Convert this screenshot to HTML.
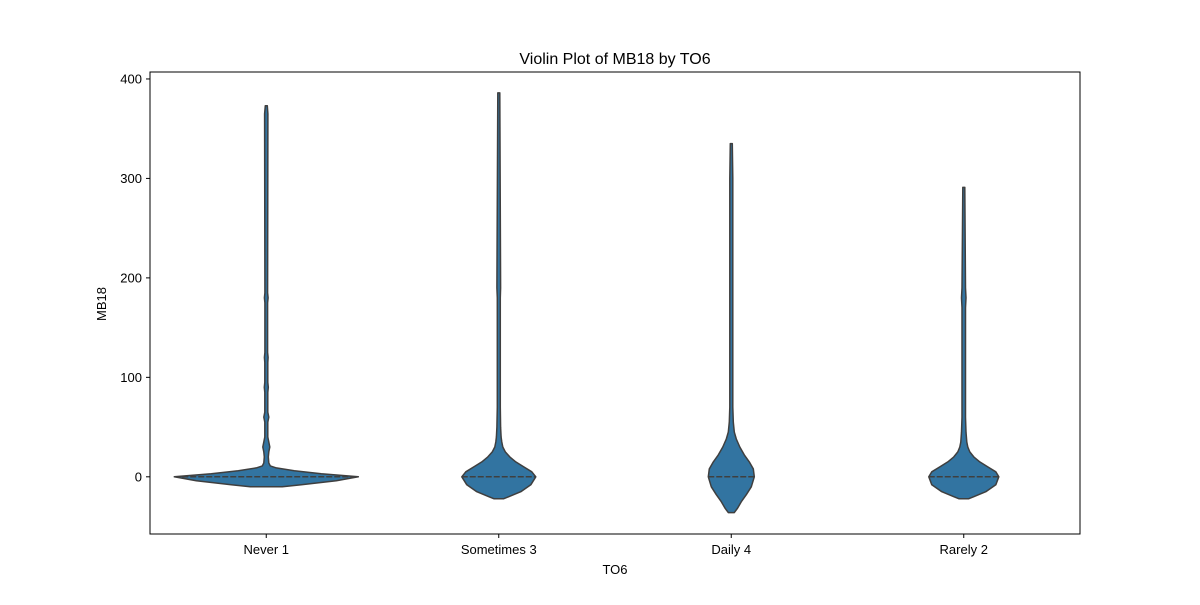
<!DOCTYPE html>
<html><head><meta charset="utf-8"><style>
body{margin:0;background:#fff;}
svg text{font-family:"Liberation Sans","DejaVu Sans",sans-serif;fill:#000;}
</style></head><body>
<svg id="chart" width="1200" height="600" viewBox="0 0 1200 600">
<rect x="0" y="0" width="1200" height="600" fill="#fff"/>
<text x="615" y="64" font-size="16" text-anchor="middle">Violin Plot of MB18 by TO6</text>
<text x="615" y="574" font-size="13" text-anchor="middle">TO6</text>
<text x="106" y="304" font-size="13" text-anchor="middle" transform="rotate(-90 106 304)">MB18</text>
<g id="plot"></g>
<rect x="150" y="72" width="930" height="462" fill="none" stroke="#000" stroke-width="1"/>
</svg>
<script>
const categories = ["Never 1", "Sometimes 3", "Daily 4", "Rarely 2"];
const yTicks = [0, 100, 200, 300, 400];
// density profiles: value points and half-widths (in px of violin width)
const neverVals = [-10, -8, -4, 0, 3, 6, 9, 11, 14, 20, 25, 30, 35, 40, 55, 60, 65, 85, 90, 95, 115, 120, 125, 175, 180, 185, 365, 373];
const neverWidths = [16, 35, 70, 92, 55, 28, 10, 4, 2.5, 2, 2.5, 3.5, 2.5, 1.5, 1.5, 2.5, 1.5, 1.5, 2, 1.5, 1.5, 1.8, 1.4, 1.4, 1.8, 1.4, 1.6, 1];
const sometimesVals = [-22, -20, -15, -8, 0, 5, 10, 15, 20, 25, 30, 35, 40, 50, 70, 180, 190, 386];
const sometimesWidths = [5, 10, 22, 32, 37, 33, 25, 17, 11, 6.5, 4, 3, 2.3, 1.8, 1.5, 1.5, 1.8, 1];
const dailyVals = [-36, -32, -25, -18, -10, 0, 8, 15, 22, 30, 38, 45, 55, 70, 300, 335];
const dailyWidths = [3, 6, 10, 15, 20, 23, 22, 18, 13, 8.5, 5, 3, 2, 1.5, 1.5, 1];
const rarelyVals = [-22, -20, -15, -8, 0, 5, 10, 15, 20, 25, 30, 35, 45, 60, 170, 180, 190, 291];
const rarelyWidths = [5, 10, 22, 32, 35, 32, 24, 16, 10, 6, 4, 3, 2.2, 1.7, 1.7, 2.3, 1.7, 1];
const medians = [0, 0, 0, 0];

const profiles = [[neverVals, neverWidths], [sometimesVals, sometimesWidths], [dailyVals, dailyWidths], [rarelyVals, rarelyWidths]];
const X0 = 150, X1 = 1080, Y0 = 534, Y1 = 72;
const yMin = -57.5, yMax = 407;
function yScale(v){ return Y0 - (v - yMin) / (yMax - yMin) * (Y0 - Y1); }
function xScale(i){ return X0 + (i + 0.5) * (X1 - X0) / categories.length; }
const NS = "http://www.w3.org/2000/svg";
const svg = document.getElementById("chart");
const plot = document.getElementById("plot");
function mk(tag, attrs, parent){ const e = document.createElementNS(NS, tag); for (const k in attrs) e.setAttribute(k, attrs[k]); (parent||plot).appendChild(e); return e; }

yTicks.forEach(t => {
  const y = yScale(t);
  const tk = mk("line", {x1: X0-4, x2: X0, y1: y, y2: y, stroke: "#000"});
  
  
  const tl = mk("text", {x: X0-8, y: y+4.5, "font-size": 13, "text-anchor": "end"});
  tl.textContent = t;
  
  
});

categories.forEach((c, i) => {
  const cx = xScale(i);
  const tk = mk("line", {x1: cx, x2: cx, y1: Y0, y2: Y0+4, stroke: "#000"});
  
  
  const tl = mk("text", {x: cx, y: Y0+20, "font-size": 13, "text-anchor": "middle"});
  tl.textContent = c;
  
  

  const vals = profiles[i][0], ws = profiles[i][1];
  let right = [], left = [];
  for (let k = 0; k < vals.length; k++) {
    right.push((cx + ws[k]).toFixed(1) + "," + yScale(vals[k]).toFixed(1));
    left.unshift((cx - ws[k]).toFixed(1) + "," + yScale(vals[k]).toFixed(1));
  }
  const d = "M" + right.join(" L") + " L" + left.join(" L") + " Z";
  const v = mk("path", {d: d, fill: "#3274a1", stroke: "#3f3f3f", "stroke-width": 1.5, "stroke-linejoin": "round"});
  
  

  // median/quartile dashed line
  const mv = medians[i];
  let hw = ws[0];
  for (let k = 0; k < vals.length - 1; k++) {
    if (mv >= vals[k] && mv <= vals[k+1]) { const f = (mv - vals[k]) / (vals[k+1] - vals[k]); hw = ws[k] + f * (ws[k+1] - ws[k]); }
  }
  const ml = mk("line", {x1: cx - hw, x2: cx + hw, y1: yScale(mv), y2: yScale(mv), stroke: "#3f3f3f", "stroke-width": 1.5, "stroke-dasharray": "6 2"});
  
  
});
</script>
</body></html>
